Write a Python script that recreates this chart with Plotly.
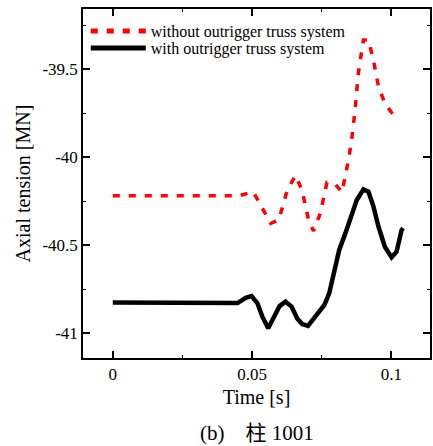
import plotly.graph_objects as go

# Data
t_without = [0.0, 0.0454, 0.0504, 0.0537, 0.0567, 0.0596, 0.0626, 0.0656, 0.068, 0.0704,
             0.0721, 0.0745, 0.0769, 0.0799, 0.0823, 0.0846, 0.0858, 0.087, 0.0882, 0.09,
             0.0918, 0.0936, 0.0954, 0.0977, 0.1007]
n_without = [-40.22, -40.22, -40.197, -40.29, -40.377, -40.358, -40.19, -40.105, -40.19, -40.367,
             -40.42, -40.32, -40.145, -40.155, -40.2, -40.02, -39.90, -39.73, -39.52, -39.335,
             -39.335, -39.45, -39.60, -39.695, -39.76]

t_with = [0.0, 0.0448, 0.0477, 0.0498, 0.0519, 0.0537, 0.0558, 0.0579, 0.0599, 0.062,
          0.0642, 0.0662, 0.068, 0.0701, 0.0721, 0.0739, 0.076, 0.0777, 0.0793, 0.0813,
          0.0835, 0.0856, 0.0876, 0.09, 0.0918, 0.0936, 0.0954, 0.0977, 0.1001, 0.1019,
          0.1037, 0.1043]
n_with = [-40.826, -40.83, -40.80, -40.79, -40.83, -40.907, -40.973, -40.907, -40.847, -40.822,
          -40.85, -40.917, -40.949, -40.96, -40.917, -40.888, -40.84, -40.775, -40.661, -40.528,
          -40.434, -40.339, -40.244, -40.184, -40.197, -40.282, -40.396, -40.51, -40.57, -40.538,
          -40.415, -40.405]

x_ticks = [0, 0.05, 0.1]
x_labels = ["0", "0.05", "0.1"]
y_ticks = [-41, -40.5, -40, -39.5]
y_labels = ["-41", "-40.5", "-40", "-39.5"]

FONT = "Liberation Serif, Times New Roman, serif"

fig = go.Figure()
fig.add_trace(go.Scatter(x=t_without, y=n_without, mode="lines",
                         name="without outrigger truss system", legend="legend",
                         line=dict(color="#ff0000", width=3.5, dash="7px,9px")))
fig.add_trace(go.Scatter(x=t_with, y=n_with, mode="lines",
                         name="with outrigger truss system", legend="legend2",
                         line=dict(color="#000000", width=4.5)))

axis_common = dict(showline=True, linecolor="black", linewidth=1.5, mirror="ticks",
                   ticks="inside", ticklen=7, tickwidth=1.5, tickcolor="black",
                   showgrid=False, zeroline=False,
                   tickfont=dict(family=FONT, size=17, color="black"),
                   minor=dict(ticks="inside", ticklen=3.5, tickwidth=1.2, tickcolor="black", showgrid=False))

fig.update_xaxes(range=[-0.0107, 0.1139], tickvals=x_ticks, ticktext=x_labels,
                 title=dict(text="Time [s]", font=dict(family=FONT, size=20, color="black"), standoff=7),
                 minor_dtick=0.025, minor_tick0=0, **axis_common)
fig.update_yaxes(range=[-41.142, -39.159], tickvals=y_ticks, ticktext=y_labels,
                 title=dict(text="Axial tension [MN]", font=dict(family=FONT, size=20, color="black"), standoff=6),
                 minor_dtick=0.25, minor_tick0=0, **axis_common)

legend_common = dict(xanchor="left", yanchor="middle", bgcolor="rgba(0,0,0,0)", itemwidth=55,
                     font=dict(family=FONT, size=16, color="black"), itemsizing="constant")

fig.update_layout(
    width=433, height=446,
    margin=dict(l=83, r=1, t=9, b=88),
    paper_bgcolor="white", plot_bgcolor="white",
    showlegend=True,
    legend=dict(x=0.008, y=0.937, **legend_common),
    legend2=dict(x=0.008, y=0.888, **legend_common),
    annotations=[dict(text="(b)\u3000柱 1001", xref="paper", yref="paper",
                      x=0.5, y=0, xanchor="center", yanchor="middle", yshift=-75,
                      showarrow=False,
                      font=dict(family="Liberation Serif, Noto Sans CJK SC, serif", size=21, color="black"))],
)

fig.write_html("out.html")
